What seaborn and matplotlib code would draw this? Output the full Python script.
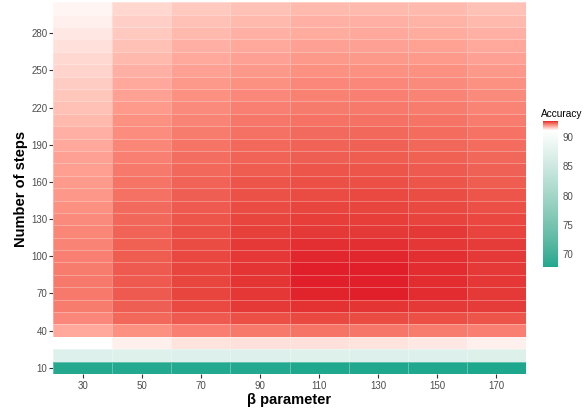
import numpy as np
import pandas as pd
import seaborn as sns
import matplotlib
matplotlib.use("Agg")
import matplotlib.pyplot as plt
from matplotlib.colors import ListedColormap, to_rgb

# ---------------- data ----------------
beta = [30, 50, 70, 90, 110, 130, 150, 170]
steps = list(range(10, 301, 10))  # 10 .. 300
ytick_values = [10, 40, 70, 100, 130, 160, 190, 220, 250, 280]
cbar_ticks = [70, 75, 80, 85, 90]

# accuracy per beta column, steps 10 -> 300
acc_b30 = [67.9, 87.0, 91.00, 91.70, 91.96, 92.05, 92.07, 92.07, 92.05, 92.02,
           92.00, 91.97, 91.94, 91.89, 91.84, 91.81, 91.78, 91.76, 91.70, 91.64,
           91.57, 91.51, 91.46, 91.41, 91.35, 91.31, 91.25, 91.19, 91.12, 91.07]
acc_b50 = [67.8, 87.1, 91.12, 91.89, 92.19, 92.27, 92.29, 92.29, 92.29, 92.28,
           92.25, 92.23, 92.20, 92.18, 92.13, 92.10, 92.07, 92.02, 91.97, 91.92,
           91.88, 91.81, 91.76, 91.70, 91.64, 91.57, 91.51, 91.44, 91.38, 91.33]
acc_b70 = [67.8, 87.0, 91.23, 92.02, 92.29, 92.40, 92.42, 92.42, 92.42, 92.41,
           92.39, 92.36, 92.33, 92.29, 92.27, 92.23, 92.19, 92.15, 92.10, 92.05,
           92.00, 91.94, 91.89, 91.83, 91.76, 91.70, 91.64, 91.57, 91.51, 91.44]
acc_b90 = [67.8, 87.0, 91.25, 92.07, 92.36, 92.48, 92.50, 92.51, 92.51, 92.50,
           92.48, 92.45, 92.42, 92.39, 92.35, 92.32, 92.28, 92.23, 92.19, 92.13,
           92.08, 92.02, 91.96, 91.89, 91.83, 91.76, 91.70, 91.64, 91.57, 91.51]
acc_b110 = [67.7, 87.1, 91.25, 92.10, 92.40, 92.52, 92.58, 92.59, 92.59, 92.57,
            92.53, 92.49, 92.46, 92.42, 92.39, 92.36, 92.32, 92.27, 92.23, 92.18,
            92.12, 92.06, 92.01, 91.96, 91.89, 91.83, 91.76, 91.68, 91.64, 91.57]
acc_b130 = [67.7, 87.0, 91.23, 92.08, 92.39, 92.51, 92.59, 92.59, 92.60, 92.57,
            92.53, 92.49, 92.46, 92.42, 92.40, 92.36, 92.32, 92.28, 92.24, 92.19,
            92.13, 92.07, 92.02, 91.96, 91.89, 91.83, 91.76, 91.70, 91.64, 91.57]
acc_b150 = [67.7, 87.0, 91.19, 92.05, 92.36, 92.49, 92.54, 92.55, 92.55, 92.53,
            92.50, 92.48, 92.44, 92.40, 92.37, 92.33, 92.29, 92.25, 92.20, 92.17,
            92.10, 92.04, 91.99, 91.94, 91.88, 91.81, 91.75, 91.68, 91.62, 91.57]
acc_b170 = [67.6, 86.9, 91.12, 92.02, 92.32, 92.47, 92.49, 92.50, 92.49, 92.48,
            92.47, 92.44, 92.41, 92.36, 92.32, 92.28, 92.24, 92.20, 92.17, 92.12,
            92.05, 91.99, 91.94, 91.89, 91.83, 91.76, 91.70, 91.64, 91.57, 91.51]

VMIN, VMID, VMAX = 67.6, 91.0, 92.6
LOW, MID, HIGH = "#1da88e", "#ffffff", "#e01f2a"

# ---------------- colour scale (Lab interpolation, ggplot-like) ----------------
_M = np.array([[0.4124, 0.3576, 0.1805], [0.2126, 0.7152, 0.0722], [0.0193, 0.1192, 0.9505]])
_W = np.array([0.95047, 1.0, 1.08883])


def to_lab(hexc):
    c = np.array(to_rgb(hexc))
    lin = np.where(c <= 0.04045, c / 12.92, ((c + 0.055) / 1.055) ** 2.4)
    xyz = _M @ lin / _W
    f = np.where(xyz > 0.008856, np.cbrt(xyz), 7.787 * xyz + 16 / 116)
    return np.array([116 * f[1] - 16, 500 * (f[0] - f[1]), 200 * (f[1] - f[2])])


def from_lab(lab):
    fy = (lab[0] + 16) / 116
    fx = fy + lab[1] / 500
    fz = fy - lab[2] / 200
    f = np.array([fx, fy, fz])
    xyz = np.where(f ** 3 > 0.008856, f ** 3, (f - 16 / 116) / 7.787) * _W
    lin = np.linalg.solve(_M, xyz)
    lin = np.clip(lin, 0, 1)
    c = np.where(lin <= 0.0031308, 12.92 * lin, 1.055 * lin ** (1 / 2.4) - 0.055)
    return np.clip(c, 0, 1)


lab_low, lab_mid, lab_high = to_lab(LOW), to_lab(MID), to_lab(HIGH)
cols = []
for v in np.linspace(VMIN, VMAX, 2048):
    if v <= VMID:
        t = (VMID - v) / (VMID - VMIN)
        lab = lab_mid * (1 - t) + lab_low * t
    else:
        t = (v - VMID) / (VMAX - VMID)
        lab = lab_mid * (1 - t) + lab_high * t
    cols.append(from_lab(lab))
cmap = ListedColormap(cols)

# ---------------- table ----------------
df = pd.DataFrame({
    30: acc_b30, 50: acc_b50, 70: acc_b70, 90: acc_b90,
    110: acc_b110, 130: acc_b130, 150: acc_b150, 170: acc_b170,
}, index=steps)
df = df[beta].iloc[::-1]  # top row = 300 steps

# ---------------- figure ----------------
sns.set_theme(style="white")
plt.rcParams["font.family"] = ["Liberation Sans", "DejaVu Sans"]

fig = plt.figure(figsize=(5.85, 4.10), dpi=100)
ax = fig.add_axes([53 / 585, 1 - 375 / 410, (526 - 53) / 585, (375 - 3.3) / 410])
cax = fig.add_axes([543 / 585, 1 - 268 / 410, 15 / 585, 146 / 410])

sns.heatmap(df, ax=ax, cmap=cmap, vmin=VMIN, vmax=VMAX, cbar_ax=cax,
            linewidths=0.5, linecolor=(1, 1, 1, 0.3))

# axes ticks
ax.set_xticks([i + 0.5 for i in range(len(beta))])
ax.set_xticklabels([str(b) for b in beta], rotation=0)
rows = list(df.index)
ax.set_yticks([rows.index(s) + 0.5 for s in ytick_values])
ax.set_yticklabels([str(s) for s in ytick_values], rotation=0)
ax.tick_params(axis="both", which="major", length=2.9, width=0.8, color="#333333",
               labelsize=7, labelcolor="#4d4d4d", pad=1.2, bottom=True, left=True)
ax.set_xlabel("β parameter", fontsize=10.5, fontweight="bold", color="black", labelpad=2)
ax.set_ylabel("Number of steps", fontsize=10.5, fontweight="bold", color="black", labelpad=2)

# colorbar
cbar = ax.collections[0].colorbar
cbar.outline.set_visible(False)
cbar.set_ticks(cbar_ticks)
cbar.ax.yaxis.set_ticks_position("both")
cbar.ax.tick_params(direction="in", color="white", length=3, width=0.6,
                    labelsize=7, labelcolor="#4d4d4d", labelleft=False, labelright=True, pad=3)
fig.text(541 / 585, 1 - 114 / 410, "Accuracy", ha="left", va="center", fontsize=7.3, color="black")

fig.savefig("out.png", dpi=100)
